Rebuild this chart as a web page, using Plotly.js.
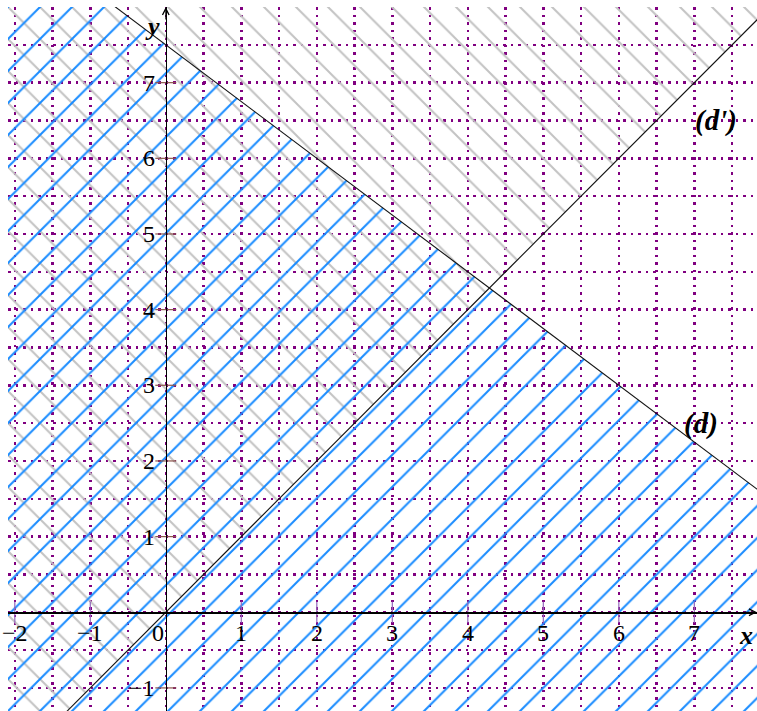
<!DOCTYPE html>
<html>
<head>
<meta charset="utf-8">
<script src="https://cdn.plot.ly/plotly-3.0.1.min.js"></script>
<style>html,body{margin:0;padding:0;background:#fff;}#chart{width:757px;height:711px;}</style>
</head>
<body>
<div id="chart"></div>
<script>
// ---- data ----
const lineNames = ["(d)", "(d')"];
const lineSlopes = [-0.75, 1];
const lineIntercepts = [7.5, 0];
const lineLabelX = [7.09, 7.29];
const lineLabelY = [2.49, 6.50];
const xTickVals = [-2, -1, 1, 2, 3, 4, 5, 6, 7];
const xTickText = ["−2", "−1", "1", "2", "3", "4", "5", "6", "7"];
const yTickVals = [-1, 1, 2, 3, 4, 5, 6, 7];
const yTickText = ["−1", "1", "2", "3", "4", "5", "6", "7"];
const originLabel = "0";
const axisNames = ["x", "y"];

// ---- view ----
const xRange = [-2.09, 7.83];
const yRange = [-1.305, 8.0];
const EXT = [-10, 20];

function lineY(i, x) { return lineSlopes[i] * x + lineIntercepts[i]; }

const BLUE = "#1a8cff";
const GRAY = "#c3c3c3";
const PURPLE = "#800080";
const FONT = "Liberation Serif, Times New Roman, serif";

const traces = [];
// gray hatch: region above (d')  (y > x)
traces.push({
  x: [EXT[0], EXT[1], EXT[1], EXT[0]],
  y: [lineY(1, EXT[0]), lineY(1, EXT[1]), 50, 50],
  mode: "lines", line: {width: 0, color: "rgba(0,0,0,0)"},
  fill: "toself", fillcolor: "rgba(0,0,0,0)",
  fillpattern: {shape: "\\", fgcolor: GRAY, bgcolor: "rgba(0,0,0,0)", size: 22.63, solidity: 0.09},
  hoverinfo: "skip"
});
// blue hatch: region below (d)
traces.push({
  x: [EXT[0], EXT[1], EXT[1], EXT[0]],
  y: [lineY(0, EXT[0]), lineY(0, EXT[1]), -50, -50],
  mode: "lines", line: {width: 0, color: "rgba(0,0,0,0)"},
  fill: "toself", fillcolor: "rgba(0,0,0,0)",
  fillpattern: {shape: "/", fgcolor: BLUE, bgcolor: "rgba(0,0,0,0)", size: 22.63, solidity: 0.09},
  hoverinfo: "skip"
});
// the two lines
for (let i = 0; i < lineNames.length; i++) {
  traces.push({
    x: EXT, y: EXT.map(x => lineY(i, x)),
    mode: "lines", line: {color: "#111", width: 1.1}, hoverinfo: "skip"
  });
}
// tick marks on the axes
traces.push({
  x: xTickVals, y: xTickVals.map(() => 0), mode: "markers",
  marker: {symbol: "line-ns-open", size: 15, line: {color: "#000", width: 1.2}},
  hoverinfo: "skip", cliponaxis: false
});
traces.push({
  x: yTickVals.map(() => 0), y: yTickVals, mode: "markers",
  marker: {symbol: "line-ew-open", size: 15, line: {color: "#000", width: 1.2}},
  hoverinfo: "skip", cliponaxis: false
});

const annotations = [];
xTickVals.forEach((v, i) => annotations.push({
  x: v, y: 0, text: xTickText[i], showarrow: false, yanchor: "middle", xanchor: "center",
  yshift: -21, font: {family: FONT, size: 24, color: "#000"}
}));
annotations.push({x: 0, y: 0, text: originLabel, showarrow: false, yanchor: "middle", xanchor: "center",
  yshift: -21, xshift: -8, font: {family: FONT, size: 24, color: "#000"}});
yTickVals.forEach((v, i) => annotations.push({
  x: 0, y: v, text: yTickText[i], showarrow: false, yanchor: "middle", xanchor: "right",
  xshift: -9, font: {family: FONT, size: 24, color: "#000"}
}));
// line labels
lineNames.forEach((n, i) => annotations.push({
  x: lineLabelX[i], y: lineLabelY[i], text: "<b><i>" + n + "</i></b>", showarrow: false,
  xanchor: "center", yanchor: "middle", font: {family: FONT, size: 29, color: "#000"}
}));
// axis names
annotations.push({x: 7.69, y: -0.31, text: "<b><i>" + axisNames[0] + "</i></b>", showarrow: false,
  xanchor: "center", yanchor: "middle", font: {family: FONT, size: 26, color: "#000"}});
annotations.push({x: -0.18, y: 7.74, text: "<b><i>" + axisNames[1] + "</i></b>", showarrow: false,
  xanchor: "center", yanchor: "middle", font: {family: FONT, size: 26, color: "#000"}});
// axis arrows
annotations.push({x: xRange[1], y: 0, ax: -14, ay: 0, text: "", showarrow: true,
  arrowhead: 5, arrowsize: 1.3, arrowwidth: 1, arrowcolor: "#000"});
annotations.push({x: 0, y: yRange[1], ax: 0, ay: 14, text: "", showarrow: true,
  arrowhead: 5, arrowsize: 1.3, arrowwidth: 1, arrowcolor: "#000"});

const gridStyle = {showgrid: true, gridcolor: PURPLE, gridwidth: 2.5, griddash: "2.5px,5px"};

const layout = {
  width: 757, height: 711,
  margin: {l: 8, r: 0, t: 7, b: 0, pad: 0},
  paper_bgcolor: "#fff", plot_bgcolor: "#fff",
  showlegend: false,
  xaxis: Object.assign({
    range: xRange, tickmode: "linear", tick0: 0, dtick: 1,
    showticklabels: false, ticks: "", zeroline: false,
    showline: true, linecolor: "#000", linewidth: 1.4,
    anchor: "free", position: (0 - yRange[0]) / (yRange[1] - yRange[0]),
    layer: "above traces", fixedrange: true,
    minor: Object.assign({tick0: 0, dtick: 0.5}, gridStyle)
  }, gridStyle),
  yaxis: Object.assign({
    range: yRange, tickmode: "linear", tick0: 0, dtick: 1,
    showticklabels: false, ticks: "", zeroline: false,
    showline: true, linecolor: "#000", linewidth: 1.4,
    anchor: "free", position: (0 - xRange[0]) / (xRange[1] - xRange[0]),
    layer: "above traces", fixedrange: true,
    minor: Object.assign({tick0: 0, dtick: 0.5}, gridStyle)
  }, gridStyle),
  annotations: annotations
};

Plotly.newPlot("chart", traces, layout, {staticPlot: true, displayModeBar: false});
</script>
</body>
</html>
